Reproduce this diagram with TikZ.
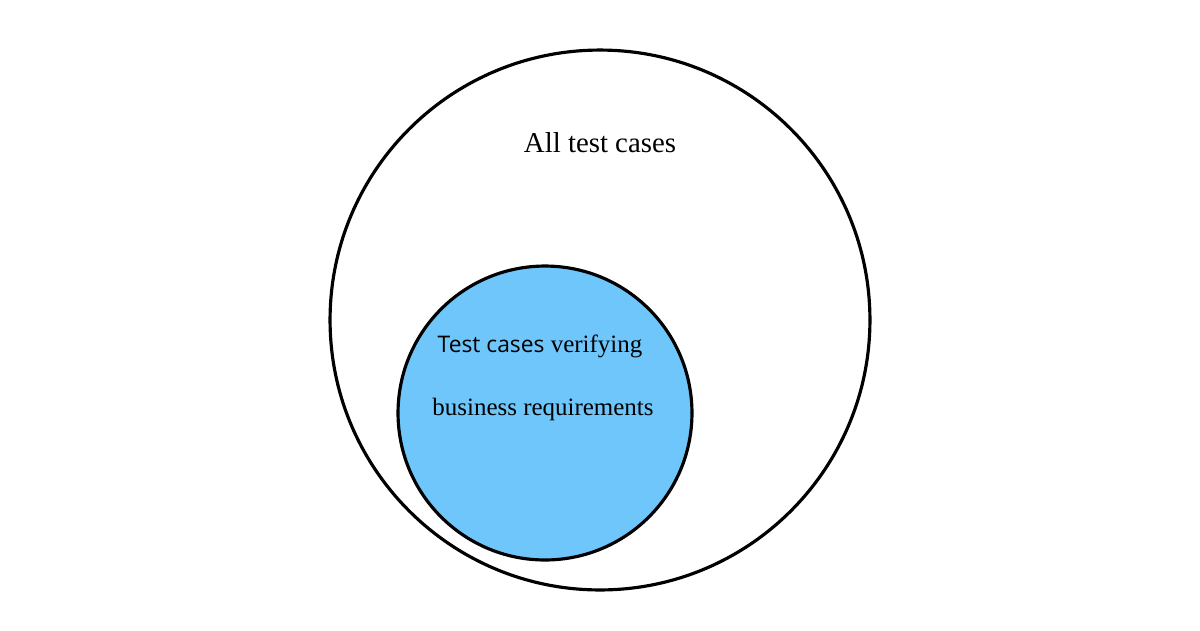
\documentclass[tikz,border=0pt]{standalone}
\usepackage{fontspec}
\setmainfont{Liberation Serif}
\newfontfamily\uisans{Open Sans}
\usepackage{tikz}

\begin{document}
\begin{tikzpicture}[x=0.02cm, y=-0.02cm]
				\tikzset{ring/.style={circle, draw=black, line width=1.8pt, inner sep=0pt}}
				\useasboundingbox (0,0) rectangle (1200,630);
				\node[ring, minimum size=10.8cm] (all) at (600,320) {};
				\node[ring, fill={rgb,255:red,110;green,198;blue,251}, minimum size=5.88cm] (biz) at (545,413) {};
				\node[anchor=base, inner sep=0pt, font=\fontsize{16.4}{19}\selectfont] (alltxt) at (600,152) {All test cases};
				\node[anchor=base, inner sep=0pt, font=\fontsize{14.2}{17}\selectfont] (biztop) at (540,352) {{\uisans\fontsize{13}{15}\selectfont Test cases} verifying};
				\node[anchor=base, inner sep=0pt, font=\fontsize{14.2}{17}\selectfont] (bizbot) at (543,415) {business requirements};
			\end{tikzpicture}
\end{document}
